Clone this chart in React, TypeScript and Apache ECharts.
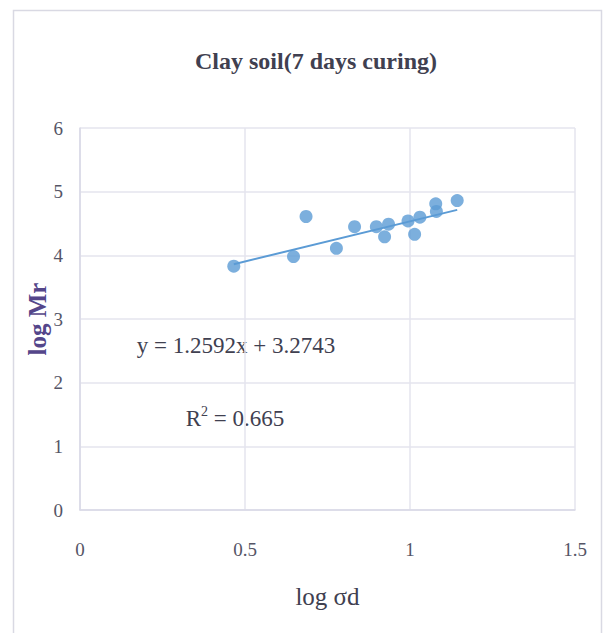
import React, { useEffect, useRef } from "react";
import * as echarts from "echarts";

const logSigmaD = [0.466, 0.647, 0.685, 0.777, 0.832, 0.898, 0.923, 0.935, 0.994, 1.014, 1.03, 1.078, 1.08, 1.143];
const logMr = [3.83, 3.98, 4.61, 4.11, 4.45, 4.45, 4.29, 4.49, 4.54, 4.33, 4.6, 4.81, 4.69, 4.86];
const slope = 1.2592;
const intercept = 3.2743;
const xTicks = [0, 0.5, 1, 1.5];
const yTicks = [0, 1, 2, 3, 4, 5, 6];

export default function App() {
  const ref = useRef<HTMLDivElement>(null);
  useEffect(() => {
    document.body.style.margin = "0";
    const chart = echarts.init(ref.current!, undefined, { renderer: "svg" });
    const pts = logSigmaD.map((x, i) => [x, logMr[i]]);
    const xMin = Math.min(...logSigmaD);
    const xMax = Math.max(...logSigmaD);
    const trend = [
      [xMin, slope * xMin + intercept],
      [xMax, slope * xMax + intercept],
    ];
    const font = "'Liberation Serif', serif";
    chart.setOption({
      animation: false,
      backgroundColor: "#ffffff",
      title: {
        text: "Clay soil(7 days curing)",
        left: 311,
        top: 44,
        textAlign: "center",
        textStyle: { fontFamily: font, fontSize: 24, fontWeight: "bold", color: "#404050" },
      },
      graphic: [
        {
          type: "rect",
          shape: { x: 13.5, y: 10.5, width: 588, height: 640 },
          style: { fill: "none", stroke: "#d9d9e3", lineWidth: 1.5 },
          silent: true,
        },
        {
          type: "text",
          x: 236,
          y: 345,
          style: {
            text: "y = 1.2592x + 3.2743",
            font: `23px ${font}`,
            fill: "#404050",
            align: "center",
            verticalAlign: "middle",
          },
        },
        {
          type: "text",
          x: 235,
          y: 418,
          style: {
            text: "R{s|2} = 0.665",
            font: `23px ${font}`,
            fill: "#404050",
            align: "center",
            verticalAlign: "middle",
            rich: { s: { fontSize: 14, verticalAlign: "top", padding: [0, 0, 13, 0], fill: "#404050", fontFamily: font } },
          },
        },
      ],
      grid: { left: 80, right: 30, top: 128, bottom: 123 },
      xAxis: {
        type: "value",
        min: xTicks[0],
        max: xTicks[xTicks.length - 1],
        interval: 0.5,
        name: "log σd",
        nameLocation: "middle",
        nameGap: 74,
        nameTextStyle: { fontFamily: font, fontSize: 25, color: "#404050" },
        axisLine: { show: true, lineStyle: { color: "#d9d9e6", width: 1.5 } },
        axisTick: { show: false },
        splitLine: { show: true, lineStyle: { color: "#e4e4ee", width: 1.5 } },
        axisLabel: { fontFamily: font, fontSize: 19, color: "#555566", margin: 30 },
      },
      yAxis: {
        type: "value",
        min: yTicks[0],
        max: yTicks[yTicks.length - 1],
        interval: 1,
        name: "log Mr",
        nameLocation: "middle",
        nameGap: 30,
        nameMoveOverlap: false,
        nameTextStyle: { fontFamily: font, fontSize: 25, fontWeight: "bold", color: "#54468a" },
        axisLine: { show: true, lineStyle: { color: "#d9d9e6", width: 1.5 } },
        axisTick: { show: false },
        splitLine: { show: true, lineStyle: { color: "#e4e4ee", width: 1.5 } },
        axisLabel: { fontFamily: font, fontSize: 19, color: "#555566", margin: 17 },
      },
      series: [
        {
          type: "scatter",
          data: pts,
          symbolSize: 13,
          itemStyle: { color: "#5b9bd5" },
          z: 3,
        },
        {
          type: "line",
          data: trend,
          showSymbol: false,
          symbol: "none",
          lineStyle: { color: "#5b9bd5", width: 2 },
          z: 2,
        },
      ],
    });
    return () => chart.dispose();
  }, []);
  return <div ref={ref} style={{ width: 605, height: 633 }} />;
}
